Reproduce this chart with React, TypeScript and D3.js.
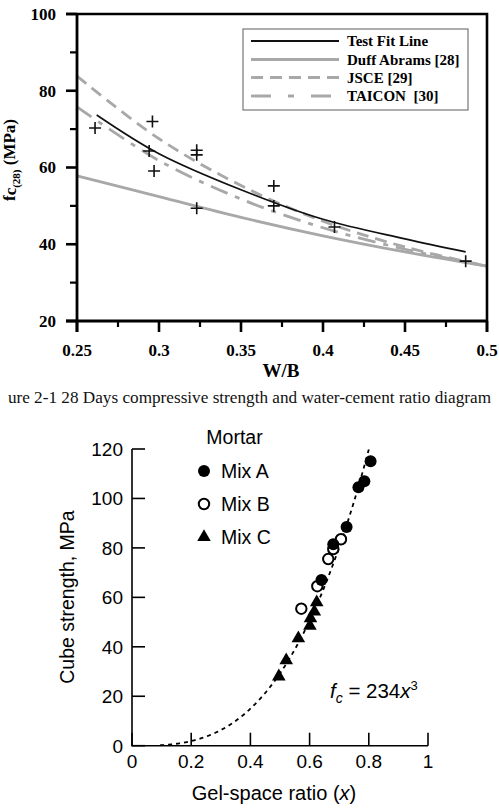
import React from "react";
import * as d3 from "d3";

// ---- upper chart: 28-day strength against W/B ----
const wbTicks = [0.25, 0.3, 0.35, 0.4, 0.45, 0.5];
const wbMinor = [0.275, 0.325, 0.375, 0.425, 0.475];
const fcTicks = [20, 40, 60, 80, 100];
const fcMinor = [30, 50, 70, 90];

const testPoints: [number, number][] = [
  [0.261, 70.3], [0.296, 72], [0.294, 64.3], [0.297, 59.1],
  [0.323, 64.5], [0.323, 63.3], [0.323, 49.4],
  [0.37, 55.2], [0.37, 50], [0.407, 44.5], [0.487, 35.6],
];
const testFit: [number, number][] = [
  [0.262, 73.7], [0.3, 63.6], [0.35, 54.2], [0.4, 46.5], [0.45, 41.4], [0.487, 38],
];
const duffAbrams: [number, number][] = [
  [0.25, 57.8], [0.3, 52.4], [0.35, 47], [0.4, 42.2], [0.45, 38], [0.5, 34.3],
];
const jsce: [number, number][] = [
  [0.25, 83.8], [0.3, 67.5], [0.35, 55.3], [0.4, 46], [0.45, 39.3], [0.5, 34.3],
];
const taicon: [number, number][] = [
  [0.25, 75.8], [0.3, 61.8], [0.35, 51.8], [0.4, 44.3], [0.45, 38.7], [0.5, 34.3],
];

const legendTop = [
  { name: "Test Fit Line", color: "#111", width: 1.8, dash: "" },
  { name: "Duff Abrams [28]", color: "#a8a8a8", width: 2.8, dash: "" },
  { name: "JSCE [29]", color: "#a8a8a8", width: 2.8, dash: "12 7" },
  { name: "TAICON\u00a0 [30]", color: "#a8a8a8", width: 2.8, dash: "20 17 6 17" },
];

// page caption (its left end runs off the page edge)
const caption = "ure 2-1 28 Days compressive strength and water-cement ratio diagram";

// ---- lower chart: cube strength against gel-space ratio ----
const gsTicks = [0, 0.2, 0.4, 0.6, 0.8, 1];
const csTicks = [0, 20, 40, 60, 80, 100, 120];
const mixA: [number, number][] = [
  [0.64, 67], [0.68, 81.5], [0.725, 88.5], [0.765, 104.5], [0.785, 107], [0.806, 115],
];
const mixB: [number, number][] = [
  [0.572, 55.4], [0.626, 64.5], [0.663, 75.5], [0.68, 79.5], [0.706, 83.5],
];
const mixC: [number, number][] = [
  [0.496, 28], [0.521, 34.5], [0.562, 43.4], [0.601, 48.5], [0.603, 51.5], [0.616, 54.2], [0.624, 58],
];
const fitCoef = 234; // fc = 234 x^3
const fitRange: [number, number] = [0.095, 0.8];

const serif = "'Liberation Serif', 'Times New Roman', serif";
const sans = "'Liberation Sans', Arial, Helvetica, sans-serif";

export default function App() {
  // upper scales
  const x1 = d3.scaleLinear().domain([0.25, 0.5]).range([77, 487]);
  const y1 = d3.scaleLinear().domain([20, 100]).range([321, 14]);
  const line1 = d3
    .line<[number, number]>()
    .x((d) => x1(d[0]))
    .y((d) => y1(d[1]))
    .curve(d3.curveCatmullRom);

  // lower scales
  const x2 = d3.scaleLinear().domain([0, 1]).range([132, 428]);
  const y2 = d3.scaleLinear().domain([0, 120]).range([745.7, 449]);
  const fitPts: [number, number][] = d3
    .range(fitRange[0], fitRange[1] + 1e-9, 0.005)
    .map((g) => [g, fitCoef * g * g * g]);
  const line2 = d3
    .line<[number, number]>()
    .x((d) => x2(d[0]))
    .y((d) => y2(d[1]));
  const tri = d3.symbol(d3.symbolTriangle, 80)();

  return (
    <svg
      width={499}
      height={809}
      style={{ position: "absolute", left: 0, top: 0, background: "#fff" }}
    >
      <rect width={499} height={809} fill="#fff" />

      {/* ===== upper chart ===== */}
      <g fontFamily={serif} fontWeight="bold">
        {/* curves */}
        <path d={line1(duffAbrams)!} fill="none" stroke="#a8a8a8" strokeWidth={2.8} />
        <path d={line1(taicon)!} fill="none" stroke="#a8a8a8" strokeWidth={2.8} strokeDasharray="18 8 5 8" />
        <path d={line1(jsce)!} fill="none" stroke="#a8a8a8" strokeWidth={2.8} strokeDasharray="12 7" />
        <path d={line1(testFit)!} fill="none" stroke="#111" strokeWidth={1.7} />

        {/* test points */}
        {testPoints.map((d, i) => (
          <path
            key={i}
            d={`M${x1(d[0]) - 6},${y1(d[1])}h12M${x1(d[0])},${y1(d[1]) - 6}v12`}
            stroke="#111"
            strokeWidth={1.6}
          />
        ))}

        {/* frame */}
        <path d={`M66,${y1(100)}H487V332`} fill="none" stroke="#000" strokeWidth={2.6} />
        <path d={`M${x1(0.25)},${y1(100)}V332`} fill="none" stroke="#000" strokeWidth={2.8} />
        <path d={`M66,${y1(20)}H487`} fill="none" stroke="#000" strokeWidth={2.8} />

        {/* ticks */}
        {fcTicks.map((t) => (
          <g key={t}>
            <line x1={66} x2={77} y1={y1(t)} y2={y1(t)} stroke="#000" strokeWidth={2.6} />
            <text x={56} y={y1(t)} dy="0.35em" textAnchor="end" fontSize={17}>
              {t}
            </text>
          </g>
        ))}
        {fcMinor.map((t) => (
          <line key={t} x1={70} x2={77} y1={y1(t)} y2={y1(t)} stroke="#000" strokeWidth={2.2} />
        ))}
        {wbTicks.map((t) => (
          <g key={t}>
            <line x1={x1(t)} x2={x1(t)} y1={321} y2={332} stroke="#000" strokeWidth={2.6} />
            <text x={x1(t)} y={356} textAnchor="middle" fontSize={17}>
              {d3.format("~g")(t)}
            </text>
          </g>
        ))}
        {wbMinor.map((t) => (
          <line key={t} x1={x1(t)} x2={x1(t)} y1={321} y2={327} stroke="#000" strokeWidth={2.2} />
        ))}

        {/* axis titles */}
        <text x={281} y={377} textAnchor="middle" fontSize={19}>
          W/B
        </text>
        <text transform="translate(15,160) rotate(-90)" textAnchor="middle" fontSize={17}>
          f<tspan dy={1}>c</tspan>
          <tspan fontSize={11} dy={4}>(28)</tspan>
          <tspan dy={-5}> (MPa)</tspan>
        </text>

        {/* legend */}
        <rect x={243} y={29} width={225} height={81} fill="#fff" stroke="#777" strokeWidth={1.2} />
        {legendTop.map((l, i) => {
          const yy = [41, 59.5, 77.5, 96][i];
          return (
            <g key={l.name}>
              <line
                x1={251}
                x2={339}
                y1={yy}
                y2={yy}
                stroke={l.color}
                strokeWidth={l.width}
                strokeDasharray={l.dash || undefined}
              />
              <text x={347} y={yy} dy="0.35em" fontSize={15}>
                {l.name}
              </text>
            </g>
          );
        })}
      </g>

      {/* caption */}
      <text x={491} y={403} textAnchor="end" fontFamily={serif} fontSize={17.2} fill="#111">
        {caption}
      </text>

      {/* ===== lower chart ===== */}
      <g fontFamily={sans} fill="#000">
        <path d={line2(fitPts)!} fill="none" stroke="#000" strokeWidth={1.8} strokeDasharray="4 4" />

        {mixC.map((d, i) => (
          <path key={i} d={tri} transform={`translate(${x2(d[0])},${y2(d[1])})`} fill="#000" />
        ))}
        {mixB.map((d, i) => (
          <circle key={i} cx={x2(d[0])} cy={y2(d[1])} r={5.2} fill="#fff" stroke="#000" strokeWidth={2} />
        ))}
        {mixA.map((d, i) => (
          <circle key={i} cx={x2(d[0])} cy={y2(d[1])} r={6} fill="#000" />
        ))}

        {/* axes */}
        <path d={`M${x2(0)},${y2(120)}V${y2(0)}H${x2(1)}`} fill="none" stroke="#000" strokeWidth={1.6} />
        {csTicks.map((t) => (
          <g key={t}>
            <line x1={x2(0)} x2={x2(0) + 13} y1={y2(t)} y2={y2(t)} stroke="#000" strokeWidth={1.6} />
            <text x={123} y={y2(t)} dy="0.36em" textAnchor="end" fontSize={19}>
              {t}
            </text>
          </g>
        ))}
        {gsTicks.map((t) => (
          <g key={t}>
            <line x1={x2(t)} x2={x2(t)} y1={y2(0)} y2={y2(0) - 13} stroke="#000" strokeWidth={1.6} />
            <text x={x2(t)} y={768} textAnchor="middle" fontSize={19}>
              {d3.format("~g")(t)}
            </text>
          </g>
        ))}

        <text x={274} y={800} textAnchor="middle" fontSize={20}>
          Gel-space ratio (<tspan fontStyle="italic">x</tspan>)
        </text>
        <text transform="translate(74,597) rotate(-90)" textAnchor="middle" fontSize={19.5}>
          Cube strength, MPa
        </text>

        {/* equation */}
        <text x={330} y={698} fontSize={20.5}>
          <tspan fontStyle="italic">f</tspan>
          <tspan fontSize={14} dy={5} fontStyle="italic">c</tspan>
          <tspan dy={-5}> = 234</tspan>
          <tspan fontStyle="italic">x</tspan>
          <tspan fontSize={13} dy={-8}>3</tspan>
        </text>

        {/* legend */}
        <text x={234.5} y={444} textAnchor="middle" fontSize={19.5}>
          Mortar
        </text>
        <circle cx={204} cy={471} r={6} fill="#000" />
        <text x={221} y={471} dy="0.36em" fontSize={19.5}>Mix A</text>
        <circle cx={204} cy={504} r={5.2} fill="#fff" stroke="#000" strokeWidth={2} />
        <text x={221} y={504} dy="0.36em" fontSize={19.5}>Mix B</text>
        <path d={tri} transform="translate(204,537)" fill="#000" />
        <text x={221} y={537} dy="0.36em" fontSize={19.5}>Mix C</text>
      </g>
    </svg>
  );
}
